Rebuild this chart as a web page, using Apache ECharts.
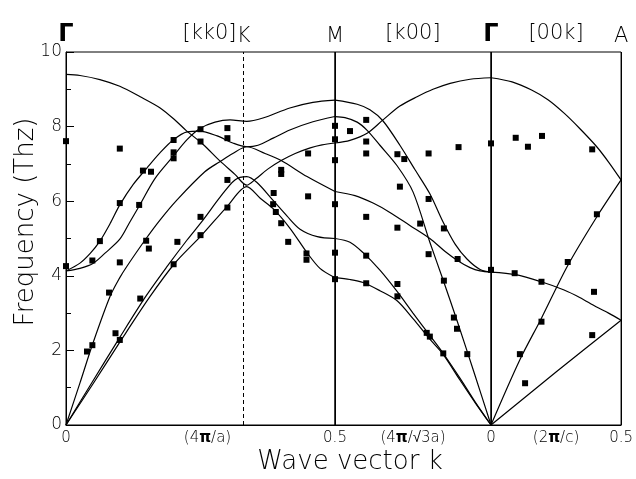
<!DOCTYPE html>
<html>
<head>
<meta charset="utf-8">
<script src="https://cdn.jsdelivr.net/npm/echarts@6/dist/echarts.min.js"></script>
<style>
  html, body { margin: 0; padding: 0; background: #fff; }
  #chart { width: 636px; height: 479px; }
</style>
</head>
<body>
<div id="chart"></div>
<script>
// phonon dispersion, three panels: Γ-K-M [kk0], M-Γ [k00], Γ-A [00k]
// each branch is [k, frequency in THz]

// Γ -> K -> M
const gkmOpt1 = [[0,9.40],[0.026,9.37],[0.063,9.26],[0.100,9.08],[0.138,8.80],[0.175,8.50],[0.203,8.17],[0.223,7.90],[0.255,7.52],[0.286,7.08],[0.314,6.72],[0.336,6.43],[0.353,6.60],[0.375,6.86],[0.400,7.09],[0.426,7.28],[0.454,7.43],[0.476,7.51],[0.5,7.56]];
const gkmOpt2 = [[0,4.13],[0.026,4.34],[0.045,4.60],[0.063,4.93],[0.082,5.40],[0.100,5.90],[0.125,6.45],[0.151,6.90],[0.175,7.30],[0.199,7.64],[0.225,7.86],[0.249,7.88],[0.281,7.75],[0.310,7.56],[0.336,7.46],[0.357,7.50],[0.385,7.69],[0.416,7.91],[0.459,8.13],[0.5,8.27]];
const gkmOpt3 = [[0,4.13],[0.026,4.20],[0.050,4.33],[0.072,4.60],[0.100,4.98],[0.119,5.45],[0.138,5.92],[0.165,6.60],[0.199,7.20],[0.225,7.65],[0.249,7.95],[0.277,8.12],[0.305,8.18],[0.336,8.14],[0.366,8.23],[0.416,8.50],[0.459,8.65],[0.5,8.71]];
const gkmAc1 = [[0,0],[0.026,1.13],[0.050,2.19],[0.082,3.45],[0.100,3.95],[0.113,4.25],[0.147,4.96],[0.175,5.50],[0.206,6.03],[0.258,6.79],[0.286,7.06],[0.310,7.28],[0.336,7.46],[0.370,7.28],[0.400,7.09],[0.448,6.66],[0.5,6.26]];
const gkmAc2 = [[0,0],[0.050,1.18],[0.100,2.35],[0.147,3.42],[0.188,4.25],[0.225,4.96],[0.255,5.50],[0.286,6.10],[0.314,6.57],[0.336,6.66],[0.355,6.50],[0.385,6.02],[0.411,5.60],[0.435,5.25],[0.467,5.05],[0.5,5.00]];
const gkmAc3 = [[0,0],[0.050,1.10],[0.100,2.22],[0.156,3.44],[0.203,4.35],[0.251,5.07],[0.299,5.85],[0.336,6.39],[0.361,6.08],[0.385,5.80],[0.416,5.28],[0.448,4.62],[0.472,4.20],[0.5,3.95]];

// M -> Γ (k runs back from 0.5 to 0)
const mgBr1 = [[0,4.10],[0.035,4.17],[0.077,4.45],[0.115,4.85],[0.154,5.45],[0.196,6.20],[0.244,6.85],[0.292,7.50],[0.346,8.15],[0.388,8.45],[0.429,8.60],[0.5,8.71]];
const mgBr2 = [[0,0],[0.054,1.40],[0.109,2.80],[0.154,3.90],[0.196,4.90],[0.250,6.25],[0.301,6.95],[0.356,7.50],[0.397,7.90],[0.429,8.12],[0.468,8.24],[0.5,8.27]];
const mgBr3 = [[0,9.31],[0.067,9.27],[0.131,9.16],[0.186,9.00],[0.237,8.80],[0.292,8.55],[0.346,8.18],[0.397,7.82],[0.452,7.63],[0.5,7.56]];
const mgBr4 = [[0,4.10],[0.035,4.13],[0.067,4.22],[0.109,4.42],[0.147,4.65],[0.196,5.00],[0.260,5.35],[0.324,5.70],[0.378,5.95],[0.436,6.15],[0.5,6.26]];
const mgBr5 = [[0,0],[0.051,0.62],[0.099,1.25],[0.154,1.93],[0.196,2.40],[0.250,3.00],[0.301,3.58],[0.356,4.15],[0.410,4.62],[0.452,4.90],[0.5,5.00]];
const mgBr6 = [[0,0],[0.051,0.60],[0.099,1.20],[0.154,1.90],[0.196,2.30],[0.250,2.85],[0.301,3.33],[0.356,3.60],[0.410,3.82],[0.452,3.90],[0.5,3.95]];

// Γ -> A
const gaBr1 = [[0,9.31],[0.081,9.20],[0.156,8.98],[0.219,8.72],[0.281,8.36],[0.341,7.95],[0.404,7.48],[0.452,7.05],[0.5,6.57]];
const gaBr2 = [[0,0],[0.111,1.75],[0.193,2.85],[0.293,4.25],[0.404,5.55],[0.5,6.57]];
const gaBr3 = [[0,4.10],[0.096,4.03],[0.193,3.84],[0.281,3.62],[0.341,3.42],[0.404,3.17],[0.452,3.00],[0.5,2.81]];
const gaBr4 = [[0,0],[0.25,1.42],[0.5,2.81]];

// measured points (squares)
const gkmPts = [[0,7.61],[0.1,7.41],[0.1,5.95],[0.136,5.9],[0.143,6.82],[0.158,6.79],[0.2,7.64],[0.2,7.31],[0.2,7.15],[0.25,7.93],[0.25,7.6],[0.3,7.96],[0.3,7.69],[0.3,6.57],[0.25,5.58],[0.3,5.83],[0.25,5.09],[0,4.26],[0.063,4.93],[0.049,4.41],[0.1,4.36],[0.08,3.55],[0.149,4.94],[0.154,4.73],[0.207,4.91],[0.138,3.39],[0.2,4.31],[0.039,1.97],[0.049,2.14],[0.092,2.46],[0.1,2.28],[0.4,6.84],[0.4,6.73],[0.45,7.28],[0.386,6.22],[0.385,5.92],[0.39,5.71],[0.4,5.41],[0.45,6.13],[0.413,4.91],[0.447,4.6],[0.447,4.43],[0.5,8.02],[0.5,7.66],[0.5,7.1],[0.5,5.92],[0.5,4.62],[0.5,3.91]];
const mgPts = [[0.452,7.88],[0.4,8.18],[0.4,7.6],[0.4,7.28],[0.3,7.26],[0.278,7.13],[0.2,7.28],[0.104,7.45],[0.292,6.39],[0.2,6.06],[0.4,5.58],[0.3,5.29],[0.227,5.4],[0.151,5.27],[0.4,4.54],[0.4,3.8],[0.3,3.78],[0.3,3.45],[0.2,4.58],[0.107,4.45],[0.151,3.87],[0.119,2.88],[0.109,2.58],[0.206,2.47],[0.196,2.37],[0.153,1.92],[0.076,1.9]];
const gaPts = [[0,7.55],[0.095,7.7],[0.142,7.46],[0.196,7.75],[0.389,7.39],[0,4.16],[0.091,4.07],[0.194,3.84],[0.396,3.57],[0.295,4.37],[0.194,2.77],[0.111,1.9],[0.131,1.12],[0.389,2.41],[0.407,5.65]];

const FONT = '"DejaVu Sans", sans-serif';
const THIN = 200;
const INK = '#000';

var myChart = echarts.init(document.getElementById('chart'));

function nameStyle(size, align, pad) {
  return {
    color: INK, fontSize: size, fontFamily: FONT, fontWeight: THIN, verticalAlign: align,
    padding: pad || 0,
    rich: { p: { fontSize: size, fontWeight: 'bold', fontFamily: FONT, color: INK } }
  }
}

function tickLabels(extra) {
  return Object.assign({ color: INK, fontSize: 15, fontFamily: FONT, fontWeight: THIN, margin: 6 }, extra || {})
}

function bottomAxis(grid, name, extra) {
  return Object.assign({
    type: 'value',
    gridIndex: grid,
    position: 'bottom',
    min: 0,
    max: 0.5,
    interval: 0.5,
    axisLine: { show: true, lineStyle: { color: INK, width: 1 } },
    axisTick: { show: false },
    splitLine: { show: false },
    axisLabel: tickLabels(),
    name: name,
    nameLocation: 'middle',
    nameGap: 6,
    nameMoveOverlap: false,
    nameTextStyle: nameStyle(15, 'top')
  }, extra || {})
}

function topAxis(grid, name, extra) {
  return Object.assign({
    type: 'value',
    gridIndex: grid,
    position: 'top',
    min: 0,
    max: 0.5,
    axisLine: { show: false },
    axisTick: { show: false },
    axisLabel: { show: false },
    splitLine: { show: false },
    name: name,
    nameLocation: 'middle',
    nameGap: 8,
    nameMoveOverlap: false,
    nameTextStyle: nameStyle(21, 'bottom')
  }, extra || {})
}

function yAxisFor(grid, visible) {
  return {
    type: 'value',
    gridIndex: grid,
    min: 0,
    max: 10,
    interval: 2,
    show: visible,
    axisLine: { show: true, lineStyle: { color: INK, width: 1 } },
    axisTick: { show: true, inside: true, length: 8, lineStyle: { color: INK } },
    minorTick: { show: true, splitNumber: 2, length: 5, lineStyle: { color: INK } },
    splitLine: { show: false },
    minorSplitLine: { show: false },
    axisLabel: tickLabels({ fontSize: 17, margin: 4 })
  }
}

function branch(data, axis) {
  return {
    type: 'line',
    data: data,
    xAxisIndex: axis,
    yAxisIndex: axis,
    smooth: 0.3,
    showSymbol: false,
    symbol: 'none',
    silent: true,
    lineStyle: { color: INK, width: 1.2 }
  }
}

function points(data, axis) {
  return {
    type: 'scatter',
    data: data,
    xAxisIndex: axis,
    yAxisIndex: axis,
    symbol: 'rect',
    symbolSize: 6,
    clip: false,
    itemStyle: { color: INK, opacity: 1 },
    z: 5
  }
}

function vLine(x, text, size, dashed, bold) {
  return {
    xAxis: x,
    lineStyle: { color: INK, width: 1, type: dashed ? [4, 3] : 'solid' },
    label: {
      show: true, position: 'end', formatter: text, distance: 5,
      color: INK, fontSize: size, fontFamily: FONT, fontWeight: bold ? 'bold' : THIN
    }
  }
}

var lines = [];
[gkmOpt1, gkmOpt2, gkmOpt3, gkmAc1, gkmAc2, gkmAc3].forEach(d => lines.push(branch(d, 0)));
[mgBr1, mgBr2, mgBr3, mgBr4, mgBr5, mgBr6].forEach(d => lines.push(branch(d, 1)));
[gaBr1, gaBr2, gaBr3, gaBr4].forEach(d => lines.push(branch(d, 2)));

// symmetry point markers along the top
lines[0].markLine = {
  silent: true, symbol: ['none', 'none'], animation: false,
  data: [vLine(0, 'Γ', 24, false, true), vLine(1 / 3, 'K', 21, true), vLine(0.5, 'M', 21, false)]
};
lines[12].markLine = {
  silent: true, symbol: ['none', 'none'], animation: false,
  data: [vLine(0, 'Γ', 24, false, true), vLine(0.5, 'A', 21, false)]
};

var option = {
  animation: false,
  backgroundColor: '#fff',
  grid: [
    { left: 66, top: 52, width: 269, height: 373, show: true, borderColor: INK, borderWidth: 1 },
    { left: 335, top: 52, width: 156, height: 373, show: true, borderColor: INK, borderWidth: 1 },
    { left: 491, top: 52, width: 135, height: 373, show: true, borderColor: INK, borderWidth: 1 }
  ],
  xAxis: [
    bottomAxis(0, '(4{p|π}/a)', { nameTextStyle: nameStyle(15, 'top', [0, 0, 0, 14]) }),
    bottomAxis(1, '(4{p|π}/√3a)', { inverse: true, axisLabel: tickLabels({ showMaxLabel: false }) }),
    bottomAxis(2, '(2{p|π}/c)', { axisLabel: tickLabels({ showMinLabel: false }) }),
    topAxis(0, '[kk0]', { nameTextStyle: nameStyle(21, 'bottom', [0, 0, 0, 18]) }),
    topAxis(1, '[k00]', { inverse: true }),
    topAxis(2, '[00k]')
  ],
  yAxis: [yAxisFor(0, true), yAxisFor(1, false), yAxisFor(2, false)],
  graphic: [
    {
      type: 'text', x: 26, y: 222, rotation: Math.PI / 2,
      style: { text: 'Frequency (Thz)', font: THIN + ' 26px ' + FONT, fill: INK, textAlign: 'center', textVerticalAlign: 'middle' }
    },
    {
      type: 'text', x: 350, y: 462,
      style: { text: 'Wave vector k', font: THIN + ' 26px ' + FONT, fill: INK, textAlign: 'center', textVerticalAlign: 'middle' }
    }
  ],
  series: lines.concat([points(gkmPts, 0), points(mgPts, 1), points(gaPts, 2)])
};

option && myChart.setOption(option);
</script>
</body>
</html>
